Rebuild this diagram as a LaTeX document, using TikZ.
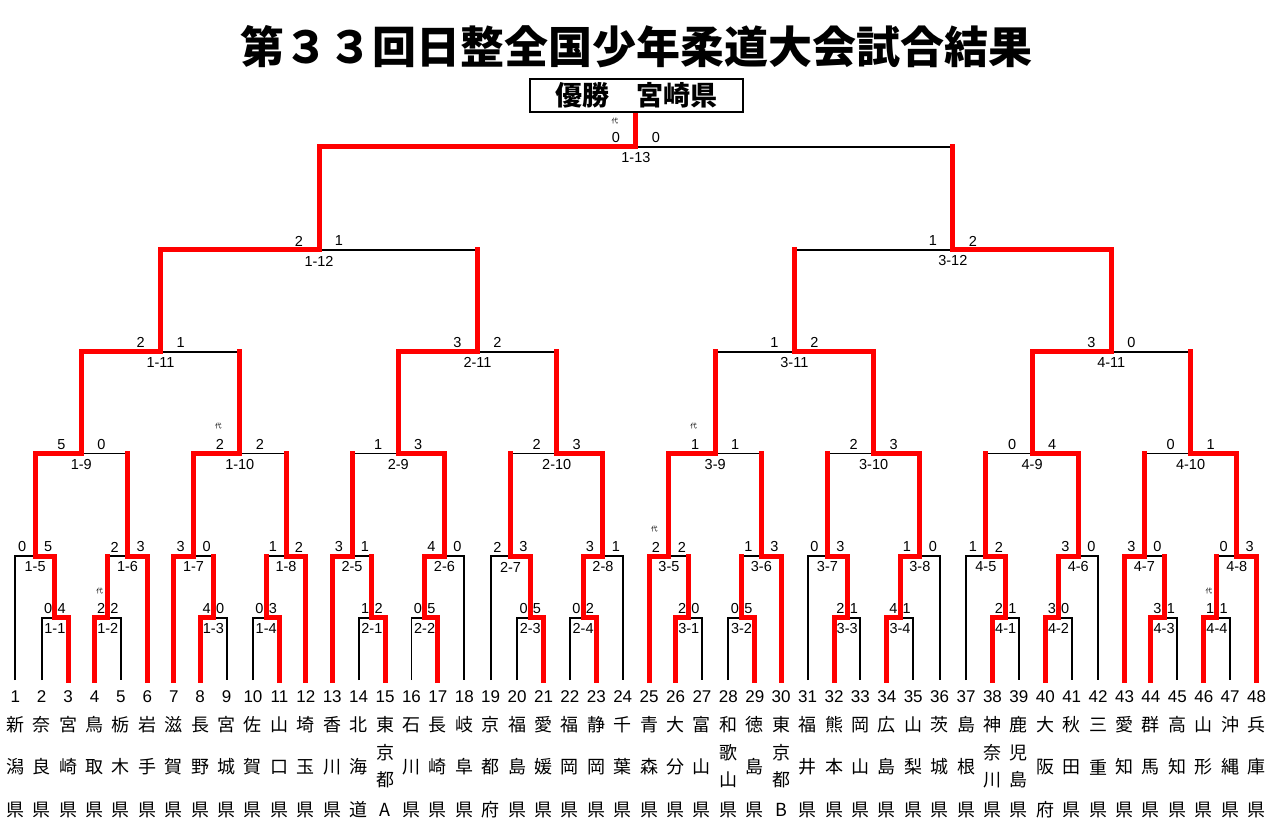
\documentclass[tikz,border=0pt]{standalone}
\usepackage{fontspec}
\setmainfont{Liberation Sans}
\newfontfamily\jp{Noto Sans CJK JP}
\usetikzlibrary{calc}
\pgfdeclarelayer{paper}
\pgfdeclarelayer{bg}
\pgfsetlayers{paper,bg,main}
\tikzset{
 blk/.style={black, line width=1.9pt},
 rd/.style={red, line width=5pt, line cap=rect, line join=miter},
 sc/.style={font=\fontsize{14.5}{15}\selectfont, inner sep=0pt},
 lb/.style={font=\fontsize{14.5}{15}\selectfont, inner sep=0pt},
 daistyle/.style={font=\jp\fontsize{6.5}{7}\selectfont, inner sep=0pt},
 num/.style={font=\fontsize{17}{18}\selectfont, inner sep=0pt},
 nm/.style={font=\jp\fontsize{18}{19}\selectfont, inner sep=0pt},
}
% #1 name, #2 left entry, #3 right entry, #4 y, #5 label, #6 left score, #7 right score, #8 winner entry, #9 red loser entry (or winner again)
\newcommand\brk[9]{%
 \path let \p1=($(#2)!0.5!(#3)$) in coordinate (#1) at (\x1,-#4pt);
 \begin{pgfonlayer}{bg}\draw[blk] (#2) |- (#1) -| (#3);\end{pgfonlayer}
 \draw[rd] (#8) |- (#1);
 \draw[rd] (#9) -- (#9 |- #1);
 \node[sc] (#1l) at ($(#1)+(-\sd,-9)$) {#6};
 \node[sc] (#1r) at ($(#1)+(\sd,-9)$) {#7};
 \node[lb] (#1t) at ($(#1)+(0,11)$) {#5};
}
\newcommand\dai[1]{\node[daistyle] (#1d) at ($(#1)+(-\sd-1.5,-27)$) {代};}
\newcommand\nmc[4]{%
 \node[nm] (n#1a) at ($(L#1)+(0,45)$) {#2};
 \node[nm] (n#1b) at ($(L#1)+(0,87)$) {#3};
 \node[nm] (n#1c) at ($(L#1)+(0,130)$) {#4};}
\newcommand\nmd[5]{%
 \node[nm] (n#1a) at ($(L#1)+(0,45)$) {#2};
 \node[nm] (n#1b) at ($(L#1)+(0,73)$) {#3};
 \node[nm] (n#1c) at ($(L#1)+(0,100)$) {#4};
 \node[nm] (n#1d) at ($(L#1)+(0,130)$) {#5};}
\begin{document}
\begin{tikzpicture}[x=1pt,y=-1pt]
\begin{pgfonlayer}{paper}
\fill[white] (0,0) rectangle (1280,834);
\end{pgfonlayer}
\useasboundingbox (0,0) rectangle (1280,834);

\node[font=\jp\bfseries\fontsize{44}{48}\selectfont, inner sep=0pt] (title) at (636,47) {第３３回日整全国少年柔道大会試合結果};
\node[draw, line width=2.5pt, minimum width=213pt, minimum height=33pt, inner sep=0pt,
      font=\jp\bfseries\fontsize{27}{28}\selectfont] (win) at (636.5,95.5) {優勝　宮崎県};

\foreach \i in {1,...,48}{
  \coordinate (L\i) at ({15.3+26.41*(\i-1)},680);
  \node[num] (N\i) at ({15.3+26.41*(\i-1)},697) {\i};
}

% level 0
\def\sd{6.7}
\brk{A1}{L2}{L3}{617.7}{1-1}{0}{4}{L3}{L3}
\brk{A2}{L4}{L5}{617.7}{1-2}{2}{2}{L4}{L4}\dai{A2}
\brk{A3}{L8}{L9}{617.7}{1-3}{4}{0}{L8}{L8}
\brk{A4}{L10}{L11}{617.7}{1-4}{0}{3}{L11}{L11}
\brk{B1}{L14}{L15}{617.7}{2-1}{1}{2}{L15}{L15}
\brk{B2}{L16}{L17}{617.7}{2-2}{0}{5}{L17}{L17}
\brk{B3}{L20}{L21}{617.7}{2-3}{0}{5}{L21}{L21}
\brk{B4}{L22}{L23}{617.7}{2-4}{0}{2}{L23}{L23}
\brk{C1}{L26}{L27}{617.7}{3-1}{2}{0}{L26}{L26}
\brk{C2}{L28}{L29}{617.7}{3-2}{0}{5}{L29}{L29}
\brk{C3}{L32}{L33}{617.7}{3-3}{2}{1}{L32}{L32}
\brk{C4}{L34}{L35}{617.7}{3-4}{4}{1}{L34}{L34}
\brk{D1}{L38}{L39}{617.7}{4-1}{2}{1}{L38}{L38}
\brk{D2}{L40}{L41}{617.7}{4-2}{3}{0}{L40}{L40}
\brk{D3}{L44}{L45}{617.7}{4-3}{3}{1}{L44}{L44}
\brk{D4}{L46}{L47}{617.7}{4-4}{1}{1}{L46}{L46}\dai{D4}

% level 1
\def\sd{13}
\brk{A5}{L1}{A1}{556}{1-5}{0}{5}{A1}{A1}
\brk{A6}{A2}{L6}{556}{1-6}{2}{3}{L6}{A2}
\brk{A7}{L7}{A3}{556}{1-7}{3}{0}{L7}{A3}
\brk{A8}{A4}{L12}{556}{1-8}{1}{2}{L12}{A4}
\brk{B5}{L13}{B1}{556}{2-5}{3}{1}{L13}{B1}
\brk{B6}{B2}{L18}{556}{2-6}{4}{0}{B2}{B2}
\brk{B7}{L19}{B3}{556}{2-7}{2}{3}{B3}{B3}
\brk{B8}{B4}{L24}{556}{2-8}{3}{1}{B4}{B4}
\brk{C5}{L25}{C1}{556}{3-5}{2}{2}{L25}{C1}\dai{C5}
\brk{C6}{C2}{L30}{556}{3-6}{1}{3}{L30}{C2}
\brk{C7}{L31}{C3}{556}{3-7}{0}{3}{C3}{C3}
\brk{C8}{C4}{L36}{556}{3-8}{1}{0}{C4}{C4}
\brk{D5}{L37}{D1}{556}{4-5}{1}{2}{D1}{D1}
\brk{D6}{D2}{L42}{556}{4-6}{3}{0}{D2}{D2}
\brk{D7}{L43}{D3}{556}{4-7}{3}{0}{L43}{D3}
\brk{D8}{D4}{L48}{556}{4-8}{0}{3}{L48}{D4}

% level 2
\def\sd{20}
\brk{A9}{A5}{A6}{453.5}{1-9}{5}{0}{A5}{A6}
\brk{A10}{A7}{A8}{453.5}{1-10}{2}{2}{A7}{A8}\dai{A10}
\brk{B9}{B5}{B6}{453.5}{2-9}{1}{3}{B6}{B5}
\brk{B10}{B7}{B8}{453.5}{2-10}{2}{3}{B8}{B7}
\brk{C9}{C5}{C6}{453.5}{3-9}{1}{1}{C5}{C6}\dai{C9}
\brk{C10}{C7}{C8}{453.5}{3-10}{2}{3}{C8}{C7}
\brk{D9}{D5}{D6}{453.5}{4-9}{0}{4}{D6}{D5}
\brk{D10}{D7}{D8}{453.5}{4-10}{0}{1}{D8}{D7}

% level 3
\brk{A11}{A9}{A10}{351.7}{1-11}{2}{1}{A9}{A10}
\brk{B11}{B9}{B10}{351.7}{2-11}{3}{2}{B9}{B10}
\brk{C11}{C9}{C10}{351.7}{3-11}{1}{2}{C10}{C9}
\brk{D11}{D9}{D10}{351.7}{4-11}{3}{0}{D9}{D10}

% level 4
\brk{A12}{A11}{B11}{250}{1-12}{2}{1}{A11}{B11}
\brk{C12}{C11}{D11}{250}{3-12}{1}{2}{D11}{C11}

% final
\brk{A13}{A12}{C12}{146.7}{1-13}{0}{0}{A12}{C12}
\node[daistyle] (A13d) at ($(A13)+(-\sd-1,-25.5)$) {代};
\draw[rd, line cap=butt] (A13) -- (A13 |- win.south);

% names
\nmc{1}{新}{潟}{県}
\nmc{2}{奈}{良}{県}
\nmc{3}{宮}{崎}{県}
\nmc{4}{鳥}{取}{県}
\nmc{5}{栃}{木}{県}
\nmc{6}{岩}{手}{県}
\nmc{7}{滋}{賀}{県}
\nmc{8}{長}{野}{県}
\nmc{9}{宮}{城}{県}
\nmc{10}{佐}{賀}{県}
\nmc{11}{山}{口}{県}
\nmc{12}{埼}{玉}{県}
\nmc{13}{香}{川}{県}
\nmc{14}{北}{海}{道}
\nmd{15}{東}{京}{都}{A}
\nmc{16}{石}{川}{県}
\nmc{17}{長}{崎}{県}
\nmc{18}{岐}{阜}{県}
\nmc{19}{京}{都}{府}
\nmc{20}{福}{島}{県}
\nmc{21}{愛}{媛}{県}
\nmc{22}{福}{岡}{県}
\nmc{23}{静}{岡}{県}
\nmc{24}{千}{葉}{県}
\nmc{25}{青}{森}{県}
\nmc{26}{大}{分}{県}
\nmc{27}{富}{山}{県}
\nmd{28}{和}{歌}{山}{県}
\nmc{29}{徳}{島}{県}
\nmd{30}{東}{京}{都}{B}
\nmc{31}{福}{井}{県}
\nmc{32}{熊}{本}{県}
\nmc{33}{岡}{山}{県}
\nmc{34}{広}{島}{県}
\nmc{35}{山}{梨}{県}
\nmc{36}{茨}{城}{県}
\nmc{37}{島}{根}{県}
\nmd{38}{神}{奈}{川}{県}
\nmd{39}{鹿}{児}{島}{県}
\nmc{40}{大}{阪}{府}
\nmc{41}{秋}{田}{県}
\nmc{42}{三}{重}{県}
\nmc{43}{愛}{知}{県}
\nmc{44}{群}{馬}{県}
\nmc{45}{高}{知}{県}
\nmc{46}{山}{形}{県}
\nmc{47}{沖}{縄}{県}
\nmc{48}{兵}{庫}{県}
\end{tikzpicture}
\end{document}
